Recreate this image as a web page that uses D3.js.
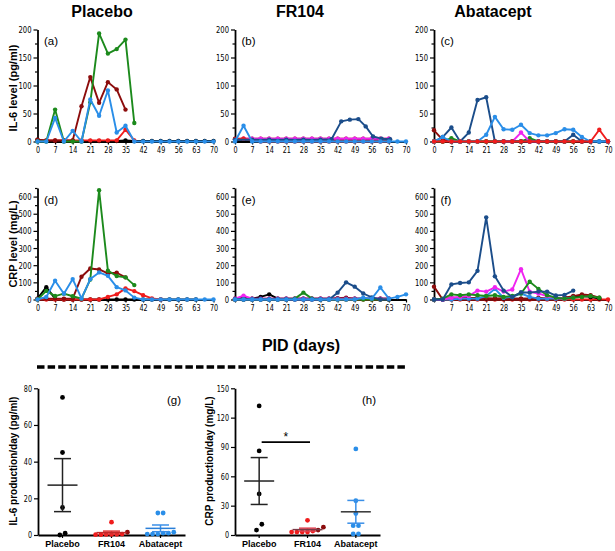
<!DOCTYPE html>
<html><head><meta charset="utf-8">
<script src="https://cdn.jsdelivr.net/npm/d3@7"></script>
<style>body{margin:0;background:#fff} svg{display:block}</style>
</head><body><svg id="c" width="615" height="551"></svg>
<script>
// ---------- DATA ----------
const days = [0,3.5,7,10.5,14,17.5,21,24.5,28,31.5,35,38.5,42,45.5,49,52.5,56,59.5,63,66.5,70];
const xTicks = [0,7,14,21,28,35,42,49,56,63,70];
const il6Ticks = [0,50,100,150,200];
const il6Minor = [25,75,125,175];
const crpTicks = [0,100,200,300,400,500,600];
const crpMinor = [50,150,250,350,450,550,650];
const groups = ["Placebo","FR104","Abatacept"];
const N = null;

// (a) Placebo IL-6
const a_black   = [3,1,1,1,1,1,1,1,1,1,2,1,1,1,1,1,1,1,1,1,1];
const a_red     = [2,2,2,2,2,2,2,2,2,2,21,2,N,N,N,N,N,N,N,N,N];
const a_darkred = [3,2,2,2,2,63,115,69,106,93,57,N,N,N,N,N,N,N,N,N,N];
const a_green   = [0,0,57,0,0,0,70,193,157,165,182,33,N,N,N,N,N,N,N,N,N];
const a_blue    = [0,0,42,0,19,0,75,46,91,16,28,0,0,0,0,0,0,0,0,0,0];
// (b) FR104 IL-6
const b_black   = [3,3,3,3,3,3,3,3,3,3,3,3,3,3,3,3,3,3,3,N,N];
const b_darkred = [5,5,5,5,5,5,5,5,5,5,5,5,5,5,5,5,5,5,5,N,N];
const b_magenta = [N,5,5,5,5,5,5,5,5,5,5,5,5,5,5,5,5,5,5,N,N];
const b_red     = [4,5,2,0,0,0,0,0,0,0,0,0,0,0,0,0,0,0,0,N,N];
const b_navyDays = [0,7,14,21,28,35,39.5,43.5,47,50.5,53.5,56.5,60,63.5];
const b_navy    = [3,3,3,3,3,3,4,36,39,40,27,9,5,4];
const b_blue    = [0,28,0,0,0,0,0,0,0,0,0,0,0,0,0,0,0,0,0,0,0];
// (c) Abatacept IL-6
const c_black   = [0,0,0,0,0,0,0,0,0,0,0,0,0,0,0,0,0,0,0,0,0];
const c_green   = [0,0,6,0,0,0,0,0,0,0,0,6,0,0,0,0,0,N,N,N,N];
const c_magenta = [N,N,N,N,N,N,N,N,0,0,16,0,0,N,N,N,N,N,N,N,N];
const c_darkred = [20,3,0,N,N,N,N,N,N,N,N,N,N,N,N,N,N,N,N,N,N];
const c_navy    = [0,8,25,0,16,74,79,0,0,0,0,0,0,0,0,0,12,0,0,0,0];
const c_blue    = [0,8,0,0,0,0,12,44,22,21,30,15,11,11,15,22,21,8,0,0,0];
const c_red     = [0,0,0,0,0,0,0,0,0,0,0,0,0,0,0,0,0,0,0,21,0];
// (d) Placebo CRP
const d_black   = [5,72,5,0,0,0,0,0,0,0,0,0,0,0,0,0,0,0,0,N,N];
const d_red     = [0,0,0,0,0,0,0,0,15,30,65,49,25,6,0,N,N,N,N,N,N];
const d_darkred = [5,5,5,5,5,133,181,175,152,156,129,N,N,N,N,N,N,N,N,N,N];
const d_green   = [0,50,20,34,19,5,117,637,168,137,129,84,N,N,N,N,N,N,N,N,N];
const d_blue    = [0,15,109,34,119,6,119,158,138,72,53,11,0,0,0,0,0,0,0,0,0];
// (e) FR104 CRP
const e_red     = [0,0,0,0,0,0,0,0,0,0,0,0,0,0,0,0,0,0,0,N,N];
const e_darkred = [5,5,5,5,5,5,5,5,5,5,5,5,8,10,5,5,5,5,5,N,N];
const e_black   = [5,10,5,15,30,5,5,5,5,5,5,5,5,5,5,5,5,5,5,N,N];
const e_magenta = [5,22,5,5,5,5,5,5,5,5,5,5,5,5,5,5,5,5,5,N,N];
const e_green   = [0,0,0,0,0,0,0,5,40,5,0,0,0,0,0,0,0,0,0,N,N];
const e_navy    = [0,0,0,0,0,0,0,0,0,0,0,0,40,100,75,35,12,0,0,N,N];
const e_blue    = [0,0,0,0,0,0,0,0,0,0,0,0,0,0,0,10,5,70,5,15,30];
// (f) Abatacept CRP
const f_red     = [0,0,0,0,0,0,0,0,0,0,0,0,0,0,0,0,0,0,0,0,0];
const f_black   = [0,0,5,5,5,5,5,5,5,5,5,5,5,5,5,10,15,20,15,5,N];
const f_darkred = [75,0,10,10,8,10,8,5,8,5,5,5,10,5,5,10,20,30,25,10,N];
const f_blue    = [0,0,0,5,5,5,20,62,10,15,35,15,5,5,5,5,10,N,N,N,N];
const f_magenta = [0,0,10,15,20,52,46,71,46,58,177,45,35,20,10,5,N,N,N,N,N];
const f_green   = [0,5,30,25,30,25,20,25,15,20,35,104,62,25,10,5,10,15,20,10,N];
const f_navy    = [0,0,88,96,100,167,479,135,52,15,42,40,46,46,23,27,52,N,N,N,N];

// (g) IL-6 production/day, (h) CRP production/day
const il6ProdTicks = [0,20,40,60,80];
const crpProdTicks = [0,30,60,90,120,150];
const g_placebo = [75,45,15,0,1];
const g_fr104   = [7,0.3,0.2,0.4,0.3,0.2,0.5,1.5];
const g_abatacept = [12,12,1,1.5,0.5,0.5,1,0.5];
const h_placebo = [132,86,42,11,5];
const h_fr104   = [15,5,3,3,3,3,4,8];
const h_abatacept = [88,35,22,9.5,9.5,1,1];
const sigLevel = 95;

// ---------- STYLE ----------
const colors = {black:"#000000", red:"#f01c1c", darkred:"#8c0c0c", green:"#1c8a1c",
  blue:"#2a8ee8", navy:"#1b4d8a", magenta:"#f024f0"};
const NARROW = '"Liberation Sans Narrow","DejaVu Sans Condensed","Arial Narrow","Liberation Sans",sans-serif';
const SANS = '"Liberation Sans",Arial,Helvetica,sans-serif';

const svg = d3.select('#c');
svg.append('rect').attr('width',615).attr('height',551).attr('fill','#fff');

// measure whether a narrow face is really available
const probe = svg.append('text').attr('font-family',NARROW).attr('font-size',10).text('0000');
const narrowW = probe.node().getComputedTextLength();
probe.remove();
const squeeze = narrowW > 4*10*0.5 ? (4*10*0.456)/narrowW : 1;

function styleAxis(g, fs){
  g.attr('font-family',null).attr('font-size',null);
  g.selectAll('path.domain').attr('stroke','#000').attr('stroke-width',1.8);
  g.selectAll('.tick line').attr('stroke','#000').attr('stroke-width',1.2);
  g.selectAll('.tick text').attr('font-family',NARROW).attr('font-size',fs).attr('fill','#000')
    .each(function(){
      if(squeeze<1 && this.textContent){
        const w = this.getComputedTextLength();
        d3.select(this).attr('textLength',w*squeeze).attr('lengthAdjust','spacingAndGlyphs');
      }
    });
}

const rows = {
  il6: {domain:[0,200], yb:141.5, yt:29.5, ticks:il6Ticks, minor:il6Minor},
  crp: {domain:[0,650], yb:299.5, yt:188, ticks:crpTicks, minor:crpMinor}
};
const cols = [[37.5,213.5],[235,406],[434,608]];

const panels = [
  {row:'il6', col:0, letter:'(a)', zero:true, series:[['black',a_black],['red',a_red],['darkred',a_darkred],['green',a_green],['blue',a_blue]]},
  {row:'il6', col:1, letter:'(b)', zero:true, series:[['black',b_black],['darkred',b_darkred],['magenta',b_magenta],['red',b_red],['navy',b_navy,b_navyDays],['blue',b_blue]]},
  {row:'il6', col:2, letter:'(c)', zero:true, series:[['black',c_black],['green',c_green],['magenta',c_magenta],['darkred',c_darkred],['navy',c_navy],['blue',c_blue],['red',c_red]]},
  {row:'crp', col:0, letter:'(d)', zero:true, series:[['black',d_black],['red',d_red],['darkred',d_darkred],['green',d_green],['blue',d_blue]]},
  {row:'crp', col:1, letter:'(e)', zero:false, series:[['red',e_red],['darkred',e_darkred],['black',e_black],['magenta',e_magenta],['green',e_green],['navy',e_navy],['blue',e_blue]]},
  {row:'crp', col:2, letter:'(f)', zero:false, series:[['red',f_red],['black',f_black],['darkred',f_darkred],['blue',f_blue],['magenta',f_magenta],['green',f_green],['navy',f_navy]]}
];

panels.forEach(p=>{
  const R = rows[p.row];
  const [x0,x1] = cols[p.col];
  const x = d3.scaleLinear().domain([0,70]).range([x0,x1]);
  const y = d3.scaleLinear().domain(R.domain).range([R.yb,R.yt]);
  const g = svg.append('g');
  const ya = g.append('g').attr('transform',`translate(${x0},0)`)
    .call(d3.axisLeft(y).tickValues(R.ticks).tickSize(4).tickPadding(2).tickSizeOuter(0));
  styleAxis(ya, 9.5);
  const ym = g.append('g').attr('transform',`translate(${x0},0)`)
    .call(d3.axisLeft(y).tickValues(R.minor).tickSize(2.5).tickFormat('').tickSizeOuter(0));
  styleAxis(ym, 9.5); ym.select('path.domain').remove();
  const xa = g.append('g').attr('transform',`translate(0,${R.yb})`)
    .call(d3.axisBottom(x).tickValues(xTicks).tickSize(3).tickPadding(2.5).tickSizeOuter(0)
      .tickFormat(d=> (!p.zero && d===0) ? '' : d));
  styleAxis(xa, 9);
  const line = d3.line().defined(d=>d[1]!=null).x(d=>x(d[0])).y(d=>y(d[1]));
  p.series.forEach(([c,vals,dd])=>{
    const dx = dd || days;
    const pts = vals.map((v,i)=>[dx[i],v]);
    g.append('path').attr('d',line(pts)).attr('fill','none').attr('stroke',colors[c])
      .attr('stroke-width',1.9).attr('stroke-linejoin','round');
    g.selectAll(null).data(pts.filter(d=>d[1]!=null)).join('circle')
      .attr('cx',d=>x(d[0])).attr('cy',d=>y(d[1])).attr('r',2.2).attr('fill',colors[c]);
  });
  g.append('text').attr('x',x0+6.5).attr('y',R.yt+15.5).attr('font-family',SANS)
    .attr('font-size',11.5).text(p.letter);
});

// titles
[['Placebo',102],['FR104',300],['Abatacept',493]].forEach(([t,cx])=>{
  svg.append('text').attr('x',cx).attr('y',16.5).attr('text-anchor','middle')
    .attr('font-family',SANS).attr('font-weight','bold').attr('font-size',16).text(t);
});
function yLabel(t,x,y,fs,w){
  svg.append('text').attr('transform',`translate(${x},${y}) rotate(-90)`).attr('text-anchor','middle')
    .attr('font-family',SANS).attr('font-weight',w).attr('font-size',fs).text(t);
}
yLabel('IL-6 level (pg/ml)',17,88,11,'bold');
yLabel('CRP level (mg/L)',17,244,11,'bold');

// PID header
svg.append('text').attr('x',301).attr('y',350.5).attr('text-anchor','middle')
  .attr('font-family',SANS).attr('font-weight','bold').attr('font-size',16).text('PID (days)');
svg.append('line').attr('x1',37).attr('x2',408).attr('y1',367).attr('y2',367)
  .attr('stroke','#000').attr('stroke-width',3.6).attr('stroke-dasharray','7.5 3.1');

// ---------- dot plots ----------
function swarm(vals, y, cx, r){
  const idx = vals.map((v,i)=>i).sort((a,b)=>vals[a]-vals[b]);
  const rs = [];
  idx.forEach(i=>{
    const py = y(vals[i]); const last = rs[rs.length-1];
    if(last && Math.abs(last.py0-py) < 2*r+1.8) last.items.push(i); else rs.push({py0:py, items:[i]});
  });
  const pos = [];
  rs.forEach(row=>{
    const n=row.items.length;
    row.items.forEach((i,k)=>{ pos[i] = {x: cx + (k-(n-1)/2)*(2*r+0.5), y: y(vals[i])}; });
  });
  return pos;
}

const dotPanels = [
  {x0:38, x1:185, yt:388.3, domain:[0,80], ticks:il6ProdTicks, letter:'(g)', lx:167, vals:[g_placebo,g_fr104,g_abatacept],
   dotColors:[g_placebo.map(()=>'black'), g_fr104.map((v,i)=> i===7?'darkred':'red'), g_abatacept.map(()=> 'blue')],
   meanC:['#222','#c02828','#2a7fd8'], errC:['#222','#e03030','#3a8fe8'],
   label:'IL-6 production/day (pg/ml)', labX:16.5},
  {x0:235, x1:380, yt:388.3, domain:[0,150], ticks:crpProdTicks, letter:'(h)', lx:362, vals:[h_placebo,h_fr104,h_abatacept],
   dotColors:[h_placebo.map(()=>'black'), h_fr104.map((v,i)=> (i===1||i===7)?'darkred':'red'), h_abatacept.map(()=> 'blue')],
   meanC:['#222','#7a3a46','#333'], errC:['#222','#e04050','#3a8fe8'],
   label:'CRP production/day (mg/L)', labX:213, sig:true}
];

dotPanels.forEach(p=>{
  const x = d3.scaleBand().domain(groups).range([p.x0,p.x1]);
  const y = d3.scaleLinear().domain(p.domain).range([535,p.yt]);
  const g = svg.append('g');
  const ya = g.append('g').attr('transform',`translate(${p.x0},0)`)
    .call(d3.axisLeft(y).tickValues(p.ticks).tickSize(4).tickPadding(2).tickSizeOuter(0));
  styleAxis(ya, 9);
  const xa = g.append('g').attr('transform','translate(0,535)')
    .call(d3.axisBottom(x).tickSize(3).tickPadding(3).tickSizeOuter(0));
  xa.attr('font-family',null).attr('font-size',null);
  xa.selectAll('path.domain').attr('stroke','#000').attr('stroke-width',1.8);
  xa.selectAll('.tick line').attr('stroke','#000').attr('stroke-width',1.2);
  xa.selectAll('.tick text').attr('font-family',SANS).attr('font-weight','bold').attr('font-size',9).attr('fill','#000');
  groups.forEach((grp,gi)=>{
    const vals = p.vals[gi];
    const cx = x(grp)+x.bandwidth()/2;
    const pos = swarm(vals,y,cx,2.4);
    g.selectAll(null).data(pos).join('circle').attr('cx',d=>d.x).attr('cy',d=>d.y).attr('r',2.4)
      .attr('fill',(d,i)=>colors[p.dotColors[gi][i]]);
    const m = d3.mean(vals), s = d3.deviation(vals)/Math.sqrt(vals.length);
    g.append('line').attr('x1',cx).attr('x2',cx).attr('y1',y(m-s)).attr('y2',y(m+s))
      .attr('stroke',p.errC[gi]).attr('stroke-width',1.5);
    [m-s,m+s].forEach(v=>g.append('line').attr('x1',cx-8.5).attr('x2',cx+8.5).attr('y1',y(v)).attr('y2',y(v))
      .attr('stroke',p.errC[gi]).attr('stroke-width',1.5));
    g.append('line').attr('x1',cx-15).attr('x2',cx+15).attr('y1',y(m)).attr('y2',y(m))
      .attr('stroke',p.meanC[gi]).attr('stroke-width',1.5);
  });
  if(p.sig){
    const c0 = x(groups[0])+x.bandwidth()/2+2.5, c1 = x(groups[1])+x.bandwidth()/2+2.5;
    g.append('line').attr('x1',c0).attr('x2',c1).attr('y1',y(sigLevel)).attr('y2',y(sigLevel))
      .attr('stroke','#000').attr('stroke-width',1.8);
    g.append('text').attr('x',(c0+c1)/2).attr('y',y(sigLevel)-1).attr('text-anchor','middle')
      .attr('font-family',SANS).attr('font-size',12).text('*');
  }
  g.append('text').attr('x',p.lx).attr('y',404).attr('font-family',SANS).attr('font-size',11.5).text(p.letter);
  yLabel(p.label,p.labX,461,10,'bold');
});
</script></body></html>
